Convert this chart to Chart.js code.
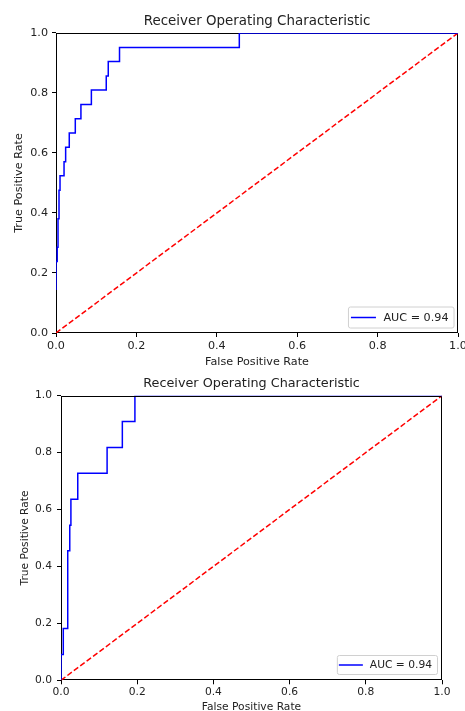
<!DOCTYPE html>
<html>
<head>
<meta charset="utf-8">
<script src="https://cdn.jsdelivr.net/npm/chart.js@4/dist/chart.umd.min.js"></script>
<style>
  body { margin: 0; background: #fff; overflow: hidden; }
  canvas { position: absolute; left: 0; }
</style>
</head>
<body>
<canvas id="rocTop" width="465" height="368" style="top:0"></canvas>
<canvas id="rocBottom" width="465" height="346" style="top:368px"></canvas>
<script>
// first model: corner points of the ROC step curve
const fprTop = [0, 0, 0.003, 0.003, 0.005, 0.005, 0.0075, 0.0075, 0.01, 0.01, 0.02, 0.02,
  0.024, 0.024, 0.033, 0.033, 0.048, 0.048, 0.062, 0.062, 0.088, 0.088, 0.125, 0.125,
  0.13, 0.13, 0.158, 0.158, 0.456, 0.456, 1.0];
const tprTop = [0.143, 0.238, 0.238, 0.286, 0.286, 0.381, 0.381, 0.476, 0.476, 0.524, 0.524, 0.571,
  0.571, 0.619, 0.619, 0.667, 0.667, 0.714, 0.714, 0.762, 0.762, 0.810, 0.810, 0.857,
  0.857, 0.905, 0.905, 0.952, 0.952, 1.0, 1.0];
const aucTop = 0.94;

// second model
const fprBottom = [0, 0, 0.006, 0.006, 0.017, 0.017, 0.018, 0.018, 0.023, 0.023, 0.026, 0.026,
  0.044, 0.044, 0.121, 0.121, 0.161, 0.161, 0.194, 0.194, 1.0];
const tprBottom = [0, 0.091, 0.091, 0.182, 0.182, 0.273, 0.273, 0.455, 0.455, 0.545, 0.545, 0.636,
  0.636, 0.727, 0.727, 0.818, 0.818, 0.909, 0.909, 1.0, 1.0];
const aucBottom = 0.94;

const chance = [0, 1];
const axisTicks = [0, 0.2, 0.4, 0.6, 0.8, 1.0];

const FONT = 'DejaVu Sans';
const INK = '#222';

function frameEdges(chart) {
  const a = chart.chartArea;
  return {
    l: Math.round(a.left) + 0.5, t: Math.round(a.top) + 0.5,
    r: Math.round(a.right) - 0.5, b: Math.round(a.bottom) - 0.5
  };
}

// box around the axes; curves go over it, except the top edge when topOver is set
const framePlugin = {
  id: 'frame',
  beforeDatasetsDraw(chart) {
    const { ctx } = chart;
    const e = frameEdges(chart);
    ctx.save();
    ctx.strokeStyle = '#000';
    ctx.lineWidth = 1;
    ctx.strokeRect(e.l, e.t, e.r - e.l, e.b - e.t);
    ctx.restore();
  },
  afterDatasetsDraw(chart, args, o) {
    if (!o.topOver) return;
    const { ctx } = chart;
    const e = frameEdges(chart);
    ctx.save();
    ctx.strokeStyle = '#000';
    ctx.lineWidth = 1;
    ctx.beginPath();
    ctx.moveTo(e.l + 1, e.t);
    ctx.lineTo(e.r, e.t);
    ctx.stroke();
    ctx.restore();
  }
};

// legend box tucked into the lower right corner of the axes
const cornerLegend = {
  id: 'cornerLegend',
  afterDraw(chart, args, o) {
    const ds = chart.data.datasets.find(d => d.label);
    if (!ds) return;
    const { ctx, chartArea: a } = chart;
    ctx.save();
    ctx.font = o.size + 'px ' + FONT;
    const tw = ctx.measureText(ds.label).width;
    const w = o.pad + o.lineLen + o.gap + tw + 5;
    const h = o.height;
    const x = a.right - o.right - w;
    const y = a.bottom - o.bottom - h;
    ctx.beginPath();
    ctx.roundRect(x + 0.5, y + 0.5, w, h, 2);
    ctx.fillStyle = 'rgba(255,255,255,0.8)';
    ctx.fill();
    ctx.strokeStyle = '#d0d0d0';
    ctx.lineWidth = 1;
    ctx.stroke();
    ctx.beginPath();
    ctx.moveTo(x + o.pad, y + h / 2 + 0.5);
    ctx.lineTo(x + o.pad + o.lineLen, y + h / 2 + 0.5);
    ctx.strokeStyle = ds.borderColor;
    ctx.lineWidth = ds.borderWidth;
    ctx.stroke();
    ctx.fillStyle = INK;
    ctx.textBaseline = 'middle';
    ctx.fillText(ds.label, x + o.pad + o.lineLen + o.gap, y + h / 2 + 1);
    ctx.restore();
  }
};

function rocChart(id, fpr, tpr, auc, s) {
  const tickFont = { family: FONT, size: s.tick };
  return new Chart(document.getElementById(id), {
    type: 'line',
    data: {
      datasets: [{
        label: 'AUC = ' + auc.toFixed(2),
        data: fpr.map((x, i) => ({ x: x, y: tpr[i] })),
        borderColor: '#0000ff',
        borderWidth: 1.5,
        pointRadius: 0,
        tension: 0
      }, {
        data: chance.map(v => ({ x: v, y: v })),
        borderColor: '#ff0000',
        borderWidth: 1.5,
        borderDash: [5.5, 2.5],
        pointRadius: 0
      }]
    },
    options: {
      responsive: false,
      animation: false,
      devicePixelRatio: 1,
      layout: { padding: { right: s.padRight, left: 0, top: 0, bottom: 0 } },
      plugins: {
        legend: { display: false },
        tooltip: { enabled: false },
        title: {
          display: true,
          fullSize: false,
          text: 'Receiver Operating Characteristic',
          color: INK,
          font: { family: FONT, size: s.title, weight: 'normal' },
          padding: { top: s.titleTop, bottom: s.titleBottom }
        },
        frame: { topOver: s.topOver },
        cornerLegend: { size: s.tick, pad: s.legPad, lineLen: s.legLine, gap: s.legGap,
          height: s.legHeight, right: s.legRight, bottom: s.legBottom }
      },
      scales: {
        x: {
          type: 'linear', min: 0, max: 1,
          afterBuildTicks: sc => { sc.ticks = axisTicks.map(v => ({ value: v })); },
          afterFit: sc => { sc.height = s.xHeight; sc.paddingLeft = 0; sc.paddingRight = 0; },
          ticks: { font: tickFont, color: INK, padding: 2, maxRotation: 0, autoSkip: false,
            callback: v => v.toFixed(1) },
          grid: { display: true, drawOnChartArea: false, tickLength: 4, tickColor: '#000', tickWidth: 1 },
          border: { display: false },
          title: { display: true, text: 'False Positive Rate', color: INK,
            font: tickFont, padding: { top: 2, bottom: s.xTitleBottom } }
        },
        y: {
          type: 'linear', min: 0, max: 1,
          afterBuildTicks: sc => { sc.ticks = axisTicks.map(v => ({ value: v })); },
          afterFit: sc => { sc.width = s.yWidth; sc.paddingTop = 0; sc.paddingBottom = 0; },
          ticks: { font: tickFont, color: INK, padding: s.yTickPad, autoSkip: false,
            callback: v => v.toFixed(1) },
          grid: { display: true, drawOnChartArea: false, tickLength: 4, tickColor: '#000', tickWidth: 1 },
          border: { display: false },
          title: { display: true, text: 'True Positive Rate', color: INK,
            font: tickFont, padding: { top: s.yTitleTop, bottom: 2 } }
        }
      }
    },
    plugins: [framePlugin, cornerLegend]
  });
}

rocChart('rocTop', fprTop, tprTop, aucTop, {
  tick: 11.2, title: 13.4, titleTop: 13.4, titleBottom: 3.5, topOver: false,
  padRight: 7, xHeight: 35, xTitleBottom: -1, yWidth: 56, yTickPad: 4, yTitleTop: 12.3,
  legPad: 3, legLine: 25, legGap: 7.5, legHeight: 21, legRight: 4.5, legBottom: 5.5
});

rocChart('rocBottom', fprBottom, tprBottom, aucBottom, {
  tick: 10.7, title: 12.8, titleTop: 7.8, titleBottom: 4.5, topOver: true,
  padRight: 23, xHeight: 33.7, xTitleBottom: 0, yWidth: 61, yTickPad: 5, yTitleTop: 18.6,
  legPad: 2, legLine: 24, legGap: 7, legHeight: 19, legRight: 5, legBottom: 6.3
});
</script>
</body>
</html>
